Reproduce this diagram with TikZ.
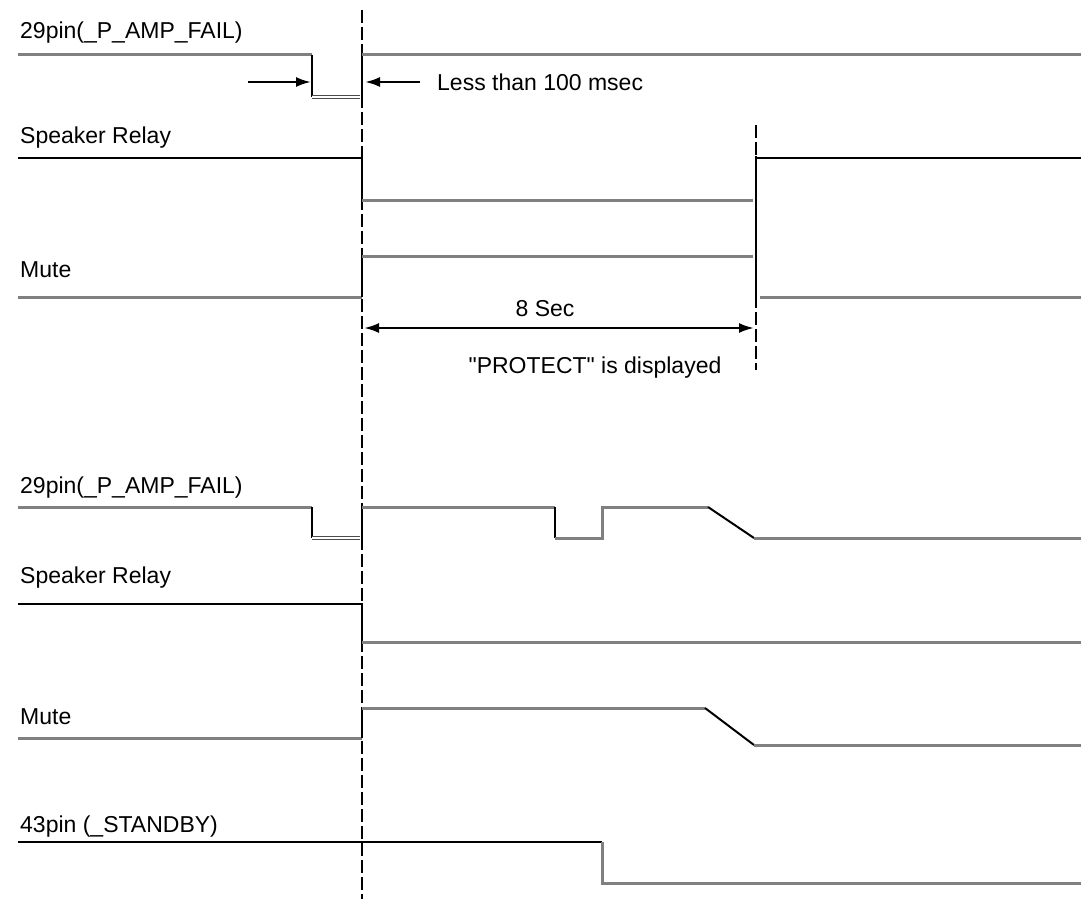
\documentclass[tikz,border=0pt]{standalone}
\usepackage{fontspec}
\setmainfont{Liberation Sans}[Ligatures=TeXOff]
\usetikzlibrary{arrows.meta}
\begin{document}
\begin{tikzpicture}[x=1pt,y=-1pt,
  lbl/.style={anchor=west,inner sep=0pt,font=\fontsize{23}{26}\selectfont},
  ctr/.style={inner sep=0pt,font=\fontsize{23}{26}\selectfont},
  gsig/.style={line width=3pt,draw=black!50},
  bsig/.style={line width=2.6pt,draw=black},
  dbl/.style={double=white,double distance=1.6pt,line width=0.9pt,draw=black!70},
  guide/.style={line width=2pt,draw=black,dash pattern=on 13pt off 4pt},
  dimarrow/.style={line width=2.4pt,draw=black,-{Latex[length=15pt,width=10pt]}},
  dimboth/.style={line width=2.4pt,draw=black,{Latex[length=15pt,width=10pt]}-{Latex[length=15pt,width=10pt]}}
]
\useasboundingbox (0,0) rectangle (1081,899);

% guide lines
\coordinate (ga) at (362,10);
\coordinate (gb) at (362,899);
\coordinate (gc) at (756,125);
\coordinate (gd) at (756,370);
\draw[guide] (ga) -- (gb);
\draw[guide] (gc) -- (gd);

% ---------- upper diagram ----------
\node[lbl] (t1) at (20,33) {29pin(\_P\_AMP\_FAIL)};
\coordinate (a0) at (18,55);
\coordinate (a1) at (312,55);
\coordinate (a2) at (312,97);
\coordinate (a3) at (360,97);
\coordinate (a4) at (362,97);
\coordinate (a5) at (362,55);
\coordinate (a6) at (1081,55);
\draw[gsig] (a0) -- (a1);
\draw[bsig] (a1) -- (a2);
\draw[dbl] (a2) -- (a3);
\draw[bsig] (a4) -- (a5);
\draw[gsig] (a5) -- (a6);

\coordinate (r1) at (248,82);
\coordinate (r2) at (311,82);
\coordinate (r3) at (420,82);
\coordinate (r4) at (365,82);
\draw[dimarrow] (r1) -- (r2);
\draw[dimarrow] (r3) -- (r4);
\node[lbl] (less) at (437,82) {Less than 100 msec};

\node[lbl] (t2) at (20,138) {Speaker Relay};
\coordinate (b0) at (18,158);
\coordinate (b1) at (362,158);
\coordinate (b2) at (362,200);
\coordinate (b3) at (753,200);
\coordinate (b4) at (756,158);
\coordinate (b5) at (1081,158);
\draw[bsig] (b0) -- (b1) -- (b2);
\draw[gsig] (b2) -- (b3);
\draw[bsig] (b4) -- (b5);

\node[lbl] (t3) at (20,270) {Mute};
\coordinate (c0) at (18,297);
\coordinate (c1) at (362,297);
\coordinate (c2) at (362,256);
\coordinate (c3) at (753,256);
\coordinate (c4) at (760,297);
\coordinate (c5) at (1081,297);
\draw[gsig] (c0) -- (c1);
\draw[bsig] (c1) -- (c2);
\draw[gsig] (c2) -- (c3);
\draw[gsig] (c4) -- (c5);
\coordinate (v1) at (756,156);
\coordinate (v2) at (756,302);
\draw[bsig] (v1) -- (v2);

\coordinate (d1) at (364,328);
\coordinate (d2) at (754,328);
\draw[dimboth] (d1) -- (d2);
\node[ctr] (sec) at (545,309) {8 Sec};
\node[ctr] (prot) at (595,368) {"PROTECT" is displayed};

% ---------- lower diagram ----------
\node[lbl] (t4) at (20,488) {29pin(\_P\_AMP\_FAIL)};
\coordinate (e0) at (18,507);
\coordinate (e1) at (312,507);
\coordinate (e2) at (312,538);
\coordinate (e3) at (360,538);
\coordinate (e4) at (362,538);
\coordinate (e5) at (362,507);
\coordinate (e6) at (555,507);
\coordinate (e7) at (555,538);
\coordinate (e8) at (602,538);
\coordinate (e9) at (602,507);
\coordinate (e10) at (708,507);
\coordinate (e11) at (754,538);
\coordinate (e12) at (1081,538);
\draw[gsig] (e0) -- (e1);
\draw[bsig] (e1) -- (e2);
\draw[dbl] (e2) -- (e3);
\draw[bsig] (e4) -- (e5);
\draw[gsig] (e5) -- (e6);
\draw[bsig] (e6) -- (e7);
\draw[gsig] (e7) -- (e8) -- (e9) -- (e10);
\draw[bsig,line width=2pt] (e10) -- (e11);
\draw[gsig] (e11) -- (e12);

\node[lbl] (t5) at (20,578) {Speaker Relay};
\coordinate (f0) at (18,604);
\coordinate (f1) at (362,604);
\coordinate (f2) at (362,642);
\coordinate (f3) at (1081,642);
\draw[bsig] (f0) -- (f1) -- (f2);
\draw[gsig] (f2) -- (f3);

\node[lbl] (t6) at (20,717) {Mute};
\coordinate (g0) at (18,738);
\coordinate (g1) at (362,738);
\coordinate (g2) at (362,708);
\coordinate (g3) at (705,708);
\coordinate (g4) at (754,745);
\coordinate (g5) at (1081,745);
\draw[gsig] (g0) -- (g1);
\draw[bsig] (g1) -- (g2);
\draw[gsig] (g2) -- (g3);
\draw[bsig,line width=2pt] (g3) -- (g4);
\draw[gsig] (g4) -- (g5);

\node[lbl] (t7) at (20,827) {43pin (\_STANDBY)};
\coordinate (h0) at (18,842);
\coordinate (h1) at (602,842);
\coordinate (h2) at (602,883);
\coordinate (h3) at (1081,883);
\draw[bsig] (h0) -- (h1);
\draw[gsig] (h1) -- (h2) -- (h3);
\end{tikzpicture}
\end{document}
